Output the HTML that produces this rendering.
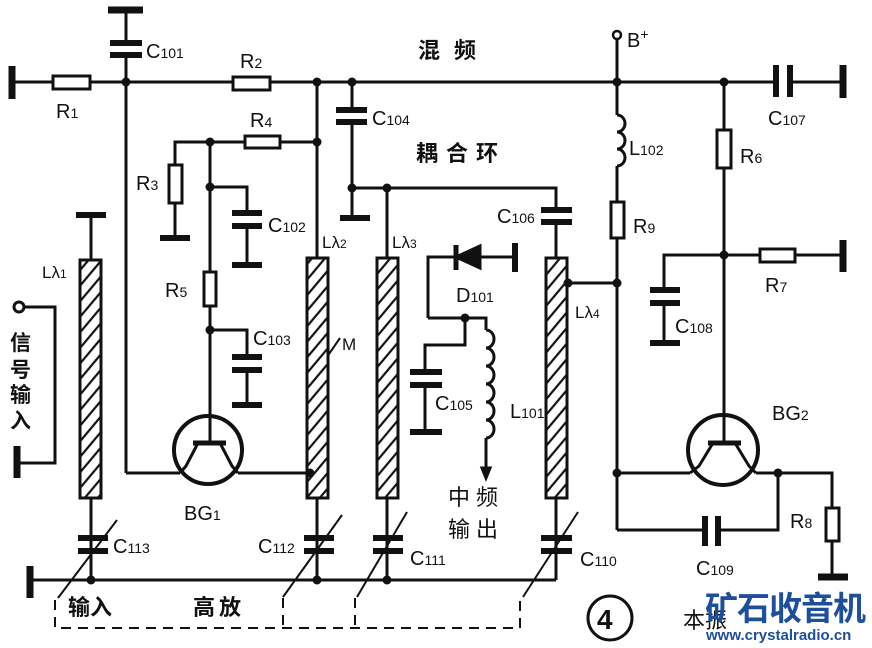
<!DOCTYPE html>
<html><head><meta charset="utf-8"><style>
html,body{margin:0;padding:0;background:#fff;}
svg{display:block;}
text{font-family:"Liberation Sans","Noto Sans CJK SC",sans-serif;fill:#111;}
</style></head><body>
<svg width="872" height="648" viewBox="0 0 872 648" xmlns="http://www.w3.org/2000/svg">
<defs>
<pattern id="h" width="10" height="10" patternUnits="userSpaceOnUse" patternTransform="rotate(-50)">
<rect width="10" height="10" fill="#fff"/><line x1="0" y1="5" x2="10" y2="5" stroke="#111" stroke-width="2.2"/>
</pattern>
</defs>
<g stroke="#111" stroke-width="3" fill="none">
<line x1="12" y1="82" x2="776" y2="82"/>
<line x1="12" y1="66" x2="12" y2="99" stroke-width="7"/>
<rect x="53" y="76" width="37" height="13" fill="#fff"/>
<line x1="126" y1="10" x2="126" y2="43"/>
<line x1="108" y1="10" x2="143" y2="10" stroke-width="7"/>
<line x1="110" y1="43" x2="142" y2="43" stroke-width="6"/>
<line x1="110" y1="55" x2="142" y2="55" stroke-width="6"/>
<line x1="126" y1="55" x2="126" y2="473"/>
<line x1="126" y1="473" x2="180" y2="473"/>
<rect x="233" y="77" width="37" height="13" fill="#fff"/>
<line x1="352" y1="82" x2="352" y2="110"/>
<line x1="336" y1="110" x2="367" y2="110" stroke-width="6"/>
<line x1="336" y1="122" x2="367" y2="122" stroke-width="6"/>
<line x1="352" y1="122" x2="352" y2="218"/>
<line x1="340" y1="218" x2="370" y2="218" stroke-width="6"/>
<polyline points="352,188 556,188 556,210"/>
<line x1="541" y1="210" x2="572" y2="210" stroke-width="6"/>
<line x1="541" y1="222" x2="572" y2="222" stroke-width="6"/>
<line x1="556" y1="222" x2="556" y2="258"/>
<line x1="387" y1="188" x2="387" y2="258"/>
<line x1="317" y1="82" x2="317" y2="258"/>
<polyline points="175,165 175,142 317,142"/>
<rect x="245" y="136" width="35" height="12" fill="#fff"/>
<rect x="169" y="165" width="13" height="38" fill="#fff"/>
<line x1="175" y1="203" x2="175" y2="238"/>
<line x1="160" y1="238" x2="190" y2="238" stroke-width="6"/>
<line x1="210" y1="142" x2="210" y2="272"/>
<polyline points="210,187 247,187 247,213"/>
<line x1="232" y1="213" x2="262" y2="213" stroke-width="6"/>
<line x1="232" y1="226" x2="262" y2="226" stroke-width="6"/>
<line x1="247" y1="226" x2="247" y2="265"/>
<line x1="232" y1="265" x2="262" y2="265" stroke-width="6"/>
<rect x="204" y="272" width="12" height="34" fill="#fff"/>
<line x1="210" y1="306" x2="210" y2="442"/>
<polyline points="210,330 247,330 247,357"/>
<line x1="232" y1="357" x2="262" y2="357" stroke-width="6"/>
<line x1="232" y1="370" x2="262" y2="370" stroke-width="6"/>
<line x1="247" y1="370" x2="247" y2="405"/>
<line x1="232" y1="405" x2="262" y2="405" stroke-width="6"/>
<circle cx="208" cy="450" r="34" stroke-width="4"/>
<line x1="193" y1="443" x2="226" y2="443" stroke-width="5"/>
<polyline points="198,443 186,466 180,473"/>
<polyline points="220,443 232,466 238,473"/>
<line x1="238" y1="473" x2="310" y2="473"/>
<line x1="91" y1="215" x2="91" y2="260"/>
<line x1="76" y1="215" x2="106" y2="215" stroke-width="6"/>
<line x1="91" y1="498" x2="91" y2="580"/>
<polyline points="23,307 55,307 55,463 20,463"/>
<line x1="17" y1="446" x2="17" y2="478" stroke-width="7"/>
<polyline points="30,580 556,580"/>
<line x1="30" y1="566" x2="30" y2="598" stroke-width="7"/>
<line x1="317" y1="498" x2="317" y2="580"/>
<line x1="387" y1="498" x2="387" y2="580"/>
<line x1="556" y1="498" x2="556" y2="580"/>
<g stroke-width="6">
<line x1="78" y1="538" x2="108" y2="538"/><line x1="78" y1="551" x2="108" y2="551"/>
<line x1="304" y1="538" x2="334" y2="538"/><line x1="304" y1="551" x2="334" y2="551"/>
<line x1="373" y1="538" x2="403" y2="538"/><line x1="373" y1="551" x2="403" y2="551"/>
<line x1="541" y1="538" x2="572" y2="538"/><line x1="541" y1="551" x2="572" y2="551"/>
</g>
<g stroke-width="2">
<line x1="58" y1="598" x2="117" y2="520"/><line x1="283" y1="597" x2="342" y2="515"/>
<line x1="357" y1="597" x2="407" y2="512"/><line x1="523" y1="597" x2="578" y2="512"/>
</g>
<g stroke-width="2" stroke-dasharray="10,7">
<polyline points="55,600 55,628 520,628 520,598"/>
<line x1="283" y1="598" x2="283" y2="628"/>
<line x1="355" y1="598" x2="355" y2="628"/>
</g>
<polyline points="428,318 428,257 515,257"/>
<line x1="515" y1="243" x2="515" y2="272" stroke-width="6"/>
<polygon points="456,257 480,246 480,268" fill="#111"/>
<line x1="456" y1="245" x2="456" y2="270" stroke-width="5"/>
<polyline points="428,318 486,318 486,330"/>
<polyline points="465,318 465,345 425,345 425,372"/>
<line x1="410" y1="372" x2="442" y2="372" stroke-width="6"/>
<line x1="410" y1="385" x2="442" y2="385" stroke-width="6"/>
<line x1="425" y1="385" x2="425" y2="432"/>
<line x1="410" y1="432" x2="442" y2="432" stroke-width="6"/>
<path d="M486,330 a8,9 0 0 1 0,18 a8,9 0 0 1 0,18 a8,9 0 0 1 0,18 a8,9 0 0 1 0,18 a8,9 0 0 1 0,18 a8,9 0 0 1 0,18"/>
<line x1="486" y1="438" x2="486" y2="470"/>
<polygon points="482,468 490,468 486,478" fill="#111"/>
<line x1="617" y1="39" x2="617" y2="115"/>
<circle cx="617" cy="35" r="4" stroke-width="2.5" fill="#fff"/>
<path d="M617,115 a8,8.5 0 0 1 0,17 a8,8.5 0 0 1 0,17 a8,8.5 0 0 1 0,17"/>
<line x1="617" y1="166" x2="617" y2="202"/>
<rect x="611" y="202" width="13" height="36" fill="#fff"/>
<line x1="617" y1="238" x2="617" y2="530"/>
<line x1="568" y1="283" x2="617" y2="283"/>
<line x1="617" y1="473" x2="690" y2="473"/>
<polyline points="617,530 705,530"/>
<polyline points="718,530 778,530 778,473"/>
<line x1="705" y1="516" x2="705" y2="546" stroke-width="6"/>
<line x1="718" y1="516" x2="718" y2="546" stroke-width="6"/>
<line x1="776" y1="65" x2="776" y2="97" stroke-width="6"/>
<line x1="790" y1="65" x2="790" y2="97" stroke-width="6"/>
<line x1="790" y1="82" x2="843" y2="82"/>
<line x1="843" y1="65" x2="843" y2="98" stroke-width="7"/>
<line x1="724" y1="82" x2="724" y2="442"/>
<rect x="717" y="130" width="14" height="38" fill="#fff"/>
<polyline points="664,290 664,255 843,255"/>
<rect x="760" y="249" width="35" height="13" fill="#fff"/>
<line x1="843" y1="240" x2="843" y2="272" stroke-width="7"/>
<line x1="650" y1="290" x2="680" y2="290" stroke-width="6"/>
<line x1="650" y1="303" x2="680" y2="303" stroke-width="6"/>
<line x1="664" y1="303" x2="664" y2="343"/>
<line x1="650" y1="343" x2="680" y2="343" stroke-width="6"/>
<circle cx="723" cy="450" r="35" stroke-width="4"/>
<line x1="708" y1="443" x2="741" y2="443" stroke-width="5"/>
<polyline points="713,443 699,466 690,473"/>
<polyline points="735,443 749,466 756,473"/>
<polyline points="756,473 832,473 832,508"/>
<rect x="826" y="508" width="13" height="33" fill="#fff"/>
<line x1="832" y1="541" x2="832" y2="577"/>
<line x1="818" y1="577" x2="848" y2="577" stroke-width="7"/>
<polyline points="340,338 329,354 325,342" stroke-width="2"/>
<rect x="80" y="260" width="21" height="238" fill="url(#h)"/>
<rect x="307" y="258" width="21" height="240" fill="url(#h)"/>
<rect x="377" y="258" width="21" height="240" fill="url(#h)"/>
<rect x="546" y="258" width="21" height="240" fill="url(#h)"/>
<circle cx="19" cy="307" r="5" fill="#fff" stroke-width="3"/>
<circle cx="610" cy="618" r="22" stroke-width="3"/>
</g>
<g fill="#111">
<circle cx="126" cy="82" r="4.5"/><circle cx="317" cy="82" r="4.5"/><circle cx="352" cy="82" r="4.5"/>
<circle cx="617" cy="82" r="4.5"/><circle cx="724" cy="82" r="4.5"/><circle cx="317" cy="142" r="4.5"/>
<circle cx="210" cy="142" r="4.5"/><circle cx="210" cy="187" r="4.5"/><circle cx="210" cy="330" r="4.5"/>
<circle cx="352" cy="188" r="4.5"/><circle cx="387" cy="188" r="4.5"/><circle cx="310" cy="473" r="4.5"/>
<circle cx="91" cy="580" r="4.5"/><circle cx="317" cy="580" r="4.5"/><circle cx="387" cy="580" r="4.5"/>
<circle cx="465" cy="318" r="4.5"/><circle cx="568" cy="283" r="4.5"/><circle cx="617" cy="283" r="4.5"/>
<circle cx="617" cy="473" r="4.5"/><circle cx="778" cy="473" r="4.5"/><circle cx="724" cy="255" r="4.5"/>
</g>
<g font-size="20">
<text x="146" y="58">C<tspan font-size="14">101</tspan></text>
<text x="56" y="118">R<tspan font-size="14">1</tspan></text>
<text x="240" y="68">R<tspan font-size="14">2</tspan></text>
<text x="250" y="127">R<tspan font-size="14">4</tspan></text>
<text x="136" y="190">R<tspan font-size="14">3</tspan></text>
<text x="165" y="297">R<tspan font-size="14">5</tspan></text>
<text x="268" y="232">C<tspan font-size="14">102</tspan></text>
<text x="253" y="345">C<tspan font-size="14">103</tspan></text>
<text x="372" y="125">C<tspan font-size="14">104</tspan></text>
<text x="497" y="223">C<tspan font-size="14">106</tspan></text>
<text x="435" y="410">C<tspan font-size="14">105</tspan></text>
<text x="510" y="418">L<tspan font-size="14">101</tspan></text>
<text x="456" y="302">D<tspan font-size="14">101</tspan></text>
<text x="629" y="155">L<tspan font-size="14">102</tspan></text>
<text x="633" y="233">R<tspan font-size="14">9</tspan></text>
<text x="740" y="163">R<tspan font-size="14">6</tspan></text>
<text x="765" y="292">R<tspan font-size="14">7</tspan></text>
<text x="790" y="528">R<tspan font-size="14">8</tspan></text>
<text x="768" y="125">C<tspan font-size="14">107</tspan></text>
<text x="675" y="333">C<tspan font-size="14">108</tspan></text>
<text x="696" y="575">C<tspan font-size="14">109</tspan></text>
<text x="580" y="566">C<tspan font-size="14">110</tspan></text>
<text x="410" y="565">C<tspan font-size="14">111</tspan></text>
<text x="258" y="553">C<tspan font-size="14">112</tspan></text>
<text x="113" y="553">C<tspan font-size="14">113</tspan></text>
<text x="184" y="520">BG<tspan font-size="14">1</tspan></text>
<text x="772" y="420">BG<tspan font-size="14">2</tspan></text>
<text x="627" y="47">B<tspan font-size="14" dy="-8">+</tspan></text>
<text x="42" y="278" font-size="17">Lλ<tspan font-size="12">1</tspan></text>
<text x="322" y="248" font-size="17">Lλ<tspan font-size="12">2</tspan></text>
<text x="392" y="248" font-size="17">Lλ<tspan font-size="12">3</tspan></text>
<text x="575" y="318" font-size="17">Lλ<tspan font-size="12">4</tspan></text>
<text x="342" y="350" font-size="17">M</text>
<text x="597" y="629" font-size="28" font-weight="bold">4</text>
</g>
<g font-size="22" font-weight="bold">
<text x="418" y="58" letter-spacing="14">混频</text>
<text x="416" y="161" letter-spacing="8">耦合环</text>
<text x="448" y="505" letter-spacing="6" font-weight="normal">中频</text>
<text x="448" y="537" letter-spacing="6" font-weight="normal">输出</text>
<text x="68" y="615">输入</text>
<text x="193" y="615" letter-spacing="4">高放</text>
<text x="683" y="628" font-weight="normal">本振</text>
</g>
<g font-size="21" font-weight="bold">
<text x="10" y="350">信</text><text x="10" y="377">号</text><text x="10" y="402">输</text><text x="10" y="428">入</text>
</g>
<text x="705" y="620" font-size="33" font-weight="bold" style="fill:#1d4f9c" letter-spacing="-1">矿石收音机</text>
<text x="706" y="640" font-size="15" font-weight="bold" style="fill:#1d4f9c">www.crystalradio.cn</text>
</svg>
</body></html>
